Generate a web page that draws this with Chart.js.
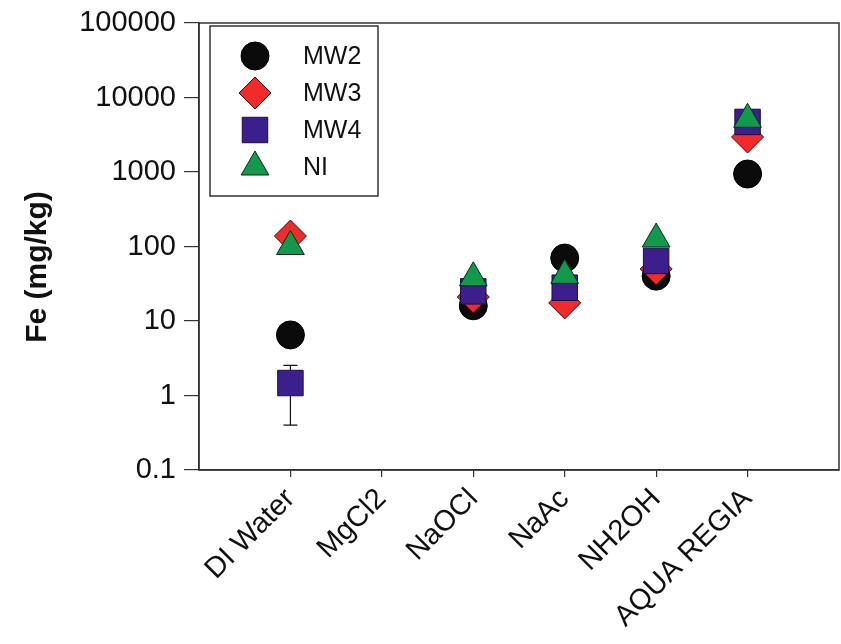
<!DOCTYPE html>
<html>
<head>
<meta charset="utf-8">
<script src="https://cdn.jsdelivr.net/npm/chart.js@4.4.0/dist/chart.umd.min.js"></script>
<style>
  html, body { margin: 0; padding: 0; background: #fff; }
  #wrap { width: 841px; height: 644px; }
</style>
</head>
<body>
<div id="wrap"><canvas id="feChart" width="841" height="644"></canvas></div>
<script>
// Fe extracted per step, mg/kg (null = not detected)
const extractants = ['DI Water', 'MgCl2', 'NaOCl', 'NaAc', 'NH2OH', 'AQUA REGIA'];
const mw2 = [6.5, null, 16, 70, 40, 940];
const mw3 = [138, null, 21, 17.5, 50, 2950];
const mw4 = [1.47, null, 25, 28, 64, 4700];
const ni = [100, null, 38, 41, 126, 5100];
const mw4Err = [1.07, null, null, null, null, null];
const yTicks = [0.1, 1, 10, 100, 1000, 10000, 100000];

const FONT = "'Liberation Sans', Arial, sans-serif";

function toPoints(vals, errs) {
  const pts = [];
  vals.forEach((v, i) => {
    if (v == null) return;
    pts.push({ x: i + 1, y: v, err: errs ? errs[i] : null });
  });
  return pts;
}

// y error bars, drawn under the markers
const errorBars = {
  id: 'errorBars',
  beforeDatasetsDraw(chart) {
    const { ctx, scales: { x, y } } = chart;
    ctx.save();
    ctx.strokeStyle = '#111';
    ctx.lineWidth = 1.2;
    chart.data.datasets.forEach(ds => {
      ds.data.forEach(p => {
        if (!p.err) return;
        const px = x.getPixelForValue(p.x);
        const top = y.getPixelForValue(p.y + p.err);
        const bot = y.getPixelForValue(Math.max(p.y - p.err, 0.1));
        ctx.beginPath();
        ctx.moveTo(px, top); ctx.lineTo(px, bot);
        ctx.moveTo(px - 7, top); ctx.lineTo(px + 7, top);
        ctx.moveTo(px - 7, bot); ctx.lineTo(px + 7, bot);
        ctx.stroke();
      });
    });
    ctx.restore();
  }
};

// closed frame, boxed legend and the rotated y title
const frame = {
  id: 'frame',
  afterDraw(chart) {
    const { ctx, chartArea: a } = chart;
    ctx.save();
    ctx.strokeStyle = '#333';
    ctx.lineWidth = 1.5;
    ctx.strokeRect(a.left, a.top, a.right - a.left, a.bottom - a.top);

    // legend
    ctx.strokeRect(210, 26, 168, 170);
    chart.data.datasets.forEach((ds, i) => {
      const cy = 56 + i * 37;
      ctx.fillStyle = ds.backgroundColor;
      ctx.strokeStyle = ds.borderColor;
      ctx.lineWidth = ds.borderWidth;
      Chart.helpers.drawPoint(ctx, {
        pointStyle: ds.pointStyle, radius: ds.pointRadius,
        borderWidth: ds.borderWidth, rotation: 0
      }, 255, cy);
      ctx.fillStyle = '#111';
      ctx.font = '25px ' + FONT;
      ctx.textAlign = 'left';
      ctx.textBaseline = 'middle';
      ctx.fillText(ds.label, 303, cy + 1);
    });

    // y title
    ctx.translate(38, 267);
    ctx.rotate(-Math.PI / 2);
    ctx.fillStyle = '#111';
    ctx.font = 'bold 30px ' + FONT;
    ctx.textAlign = 'center';
    ctx.textBaseline = 'middle';
    ctx.fillText('Fe (mg/kg)', 0, 0);
    ctx.restore();
  }
};

const ctx = document.getElementById('feChart').getContext('2d');

const feChart = new Chart(ctx, {
  type: 'scatter',
  data: {
    datasets: [
      { label: 'MW2', data: toPoints(mw2), pointStyle: 'circle', pointRadius: 14,
        backgroundColor: '#0b0b0b', borderColor: '#000', borderWidth: 1, order: 3 },
      { label: 'MW3', data: toPoints(mw3), pointStyle: 'rectRot', pointRadius: 16,
        backgroundColor: '#f22a2a', borderColor: '#3a0a0a', borderWidth: 1, order: 2 },
      { label: 'MW4', data: toPoints(mw4, mw4Err), pointStyle: 'rect', pointRadius: 18,
        backgroundColor: '#3c1f8c', borderColor: '#1a0d40', borderWidth: 1, order: 1 },
      { label: 'NI', data: toPoints(ni), pointStyle: 'triangle', pointRadius: 16,
        backgroundColor: '#12994b', borderColor: '#062b14', borderWidth: 1, order: 0 },
    ],
  },
  options: {
    responsive: false,
    animation: false,
    events: [],
    layout: { autoPadding: false, padding: { left: 15, top: 23, right: 2, bottom: 0 } },
    plugins: {
      legend: { display: false },
      tooltip: { enabled: false },
    },
    scales: {
      x: {
        type: 'linear',
        min: 0,
        max: 7,
        afterBuildTicks: axis => { axis.ticks = extractants.map((_, i) => ({ value: i + 1 })); },
        afterFit: scale => {
          scale.height = 644 - 470;
          scale.paddingLeft = 0;
          scale.paddingRight = 0;
        },
        ticks: {
          callback: v => extractants[v - 1],
          minRotation: 45,
          maxRotation: 45,
          autoSkip: false,
          padding: 5,
          color: '#111',
          font: { family: FONT, size: 29 },
        },
        grid: { drawOnChartArea: false, drawTicks: true, tickLength: 7, color: '#333', lineWidth: 1.2 },
        border: { color: '#333', width: 1.5 },
      },
      y: {
        type: 'logarithmic',
        min: 0.1,
        max: 100000,
        afterBuildTicks: axis => { axis.ticks = yTicks.map(v => ({ value: v })); },
        afterFit: scale => {
          scale.width = 199 - 15;
          scale.paddingTop = 0;
          scale.paddingBottom = 0;
        },
        ticks: {
          callback: v => String(v),
          padding: 8,
          color: '#111',
          font: { family: FONT, size: 29 },
        },
        grid: { drawOnChartArea: false, drawTicks: true, tickLength: 15, color: '#333', lineWidth: 1.2 },
        border: { color: '#333', width: 1.5 },
      },
    },
  },
  plugins: [errorBars, frame],
});
</script>
</body>
</html>
